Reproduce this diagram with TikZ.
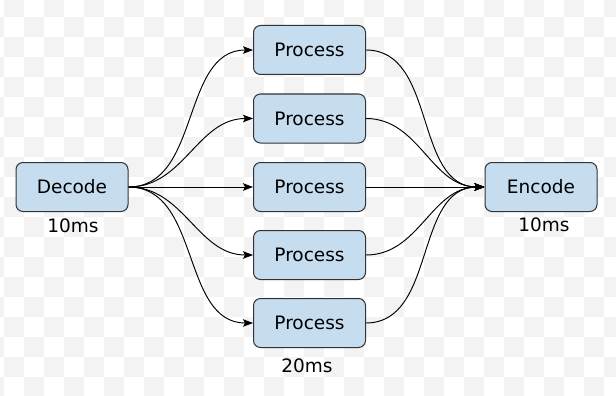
\documentclass[tikz,border=0pt]{standalone}
\usepackage{fontspec}
\setmainfont{DejaVu Sans}
\usetikzlibrary{arrows.meta}
\definecolor{boxfill}{HTML}{C6DDF0}
\definecolor{boxline}{HTML}{333333}
\definecolor{checker}{HTML}{F3F3F3}
\tikzset{
  stage/.style={draw=boxline, fill=boxfill, line width=1pt, rounded corners=7pt,
    minimum width=112pt, minimum height=49pt, inner sep=0pt,
    font=\fontsize{18.5}{21}\selectfont},
  timing/.style={font=\fontsize{18.5}{21}\selectfont, inner sep=0pt},
  flow/.style={draw=black, line width=0.95pt, -{Stealth[length=10pt,width=7.5pt,inset=2pt]}},
}
\begin{document}
\begin{tikzpicture}[x=1pt,y=-1pt]
\useasboundingbox (0,0) rectangle (616,396);
\fill[white] (0,0) rectangle (616,396);
\begin{scope}
\clip (0,0) rectangle (616,396);
\foreach \xx in {4,44,...,620} {
  \foreach \yy in {-3,37,...,400} {
    \fill[checker] (\xx,\yy) rectangle ++(20,20);
  }
}
\foreach \xx in {-16,24,...,620} {
  \foreach \yy in {17,57,...,400} {
    \fill[checker] (\xx,\yy) rectangle ++(20,20);
  }
}
\end{scope}

\node[stage] (dec) at (72,187) {Decode};
\node[stage] (p1) at (309.5,50) {Process};
\node[stage] (p2) at (309.5,118.5) {Process};
\node[stage] (p3) at (309.5,187) {Process};
\node[stage] (p4) at (309.5,255) {Process};
\node[stage] (p5) at (309.5,323) {Process};
\node[stage] (enc) at (541,187) {Encode};

\node[timing] (t1) at (73,226) {10ms};
\node[timing] (t2) at (544,225) {10ms};
\node[timing] (t3) at (307,366) {20ms};

\foreach \p in {p1,p2,p4,p5} {
  \draw[flow] (dec.east) to[out=0,in=180] (\p.west);
  \draw[flow] (\p.east) to[out=0,in=180] (enc.west);
}
\draw[flow] (dec.east) -- (p3.west);
\draw[flow] (p3.east) -- (enc.west);
\end{tikzpicture}
\end{document}
